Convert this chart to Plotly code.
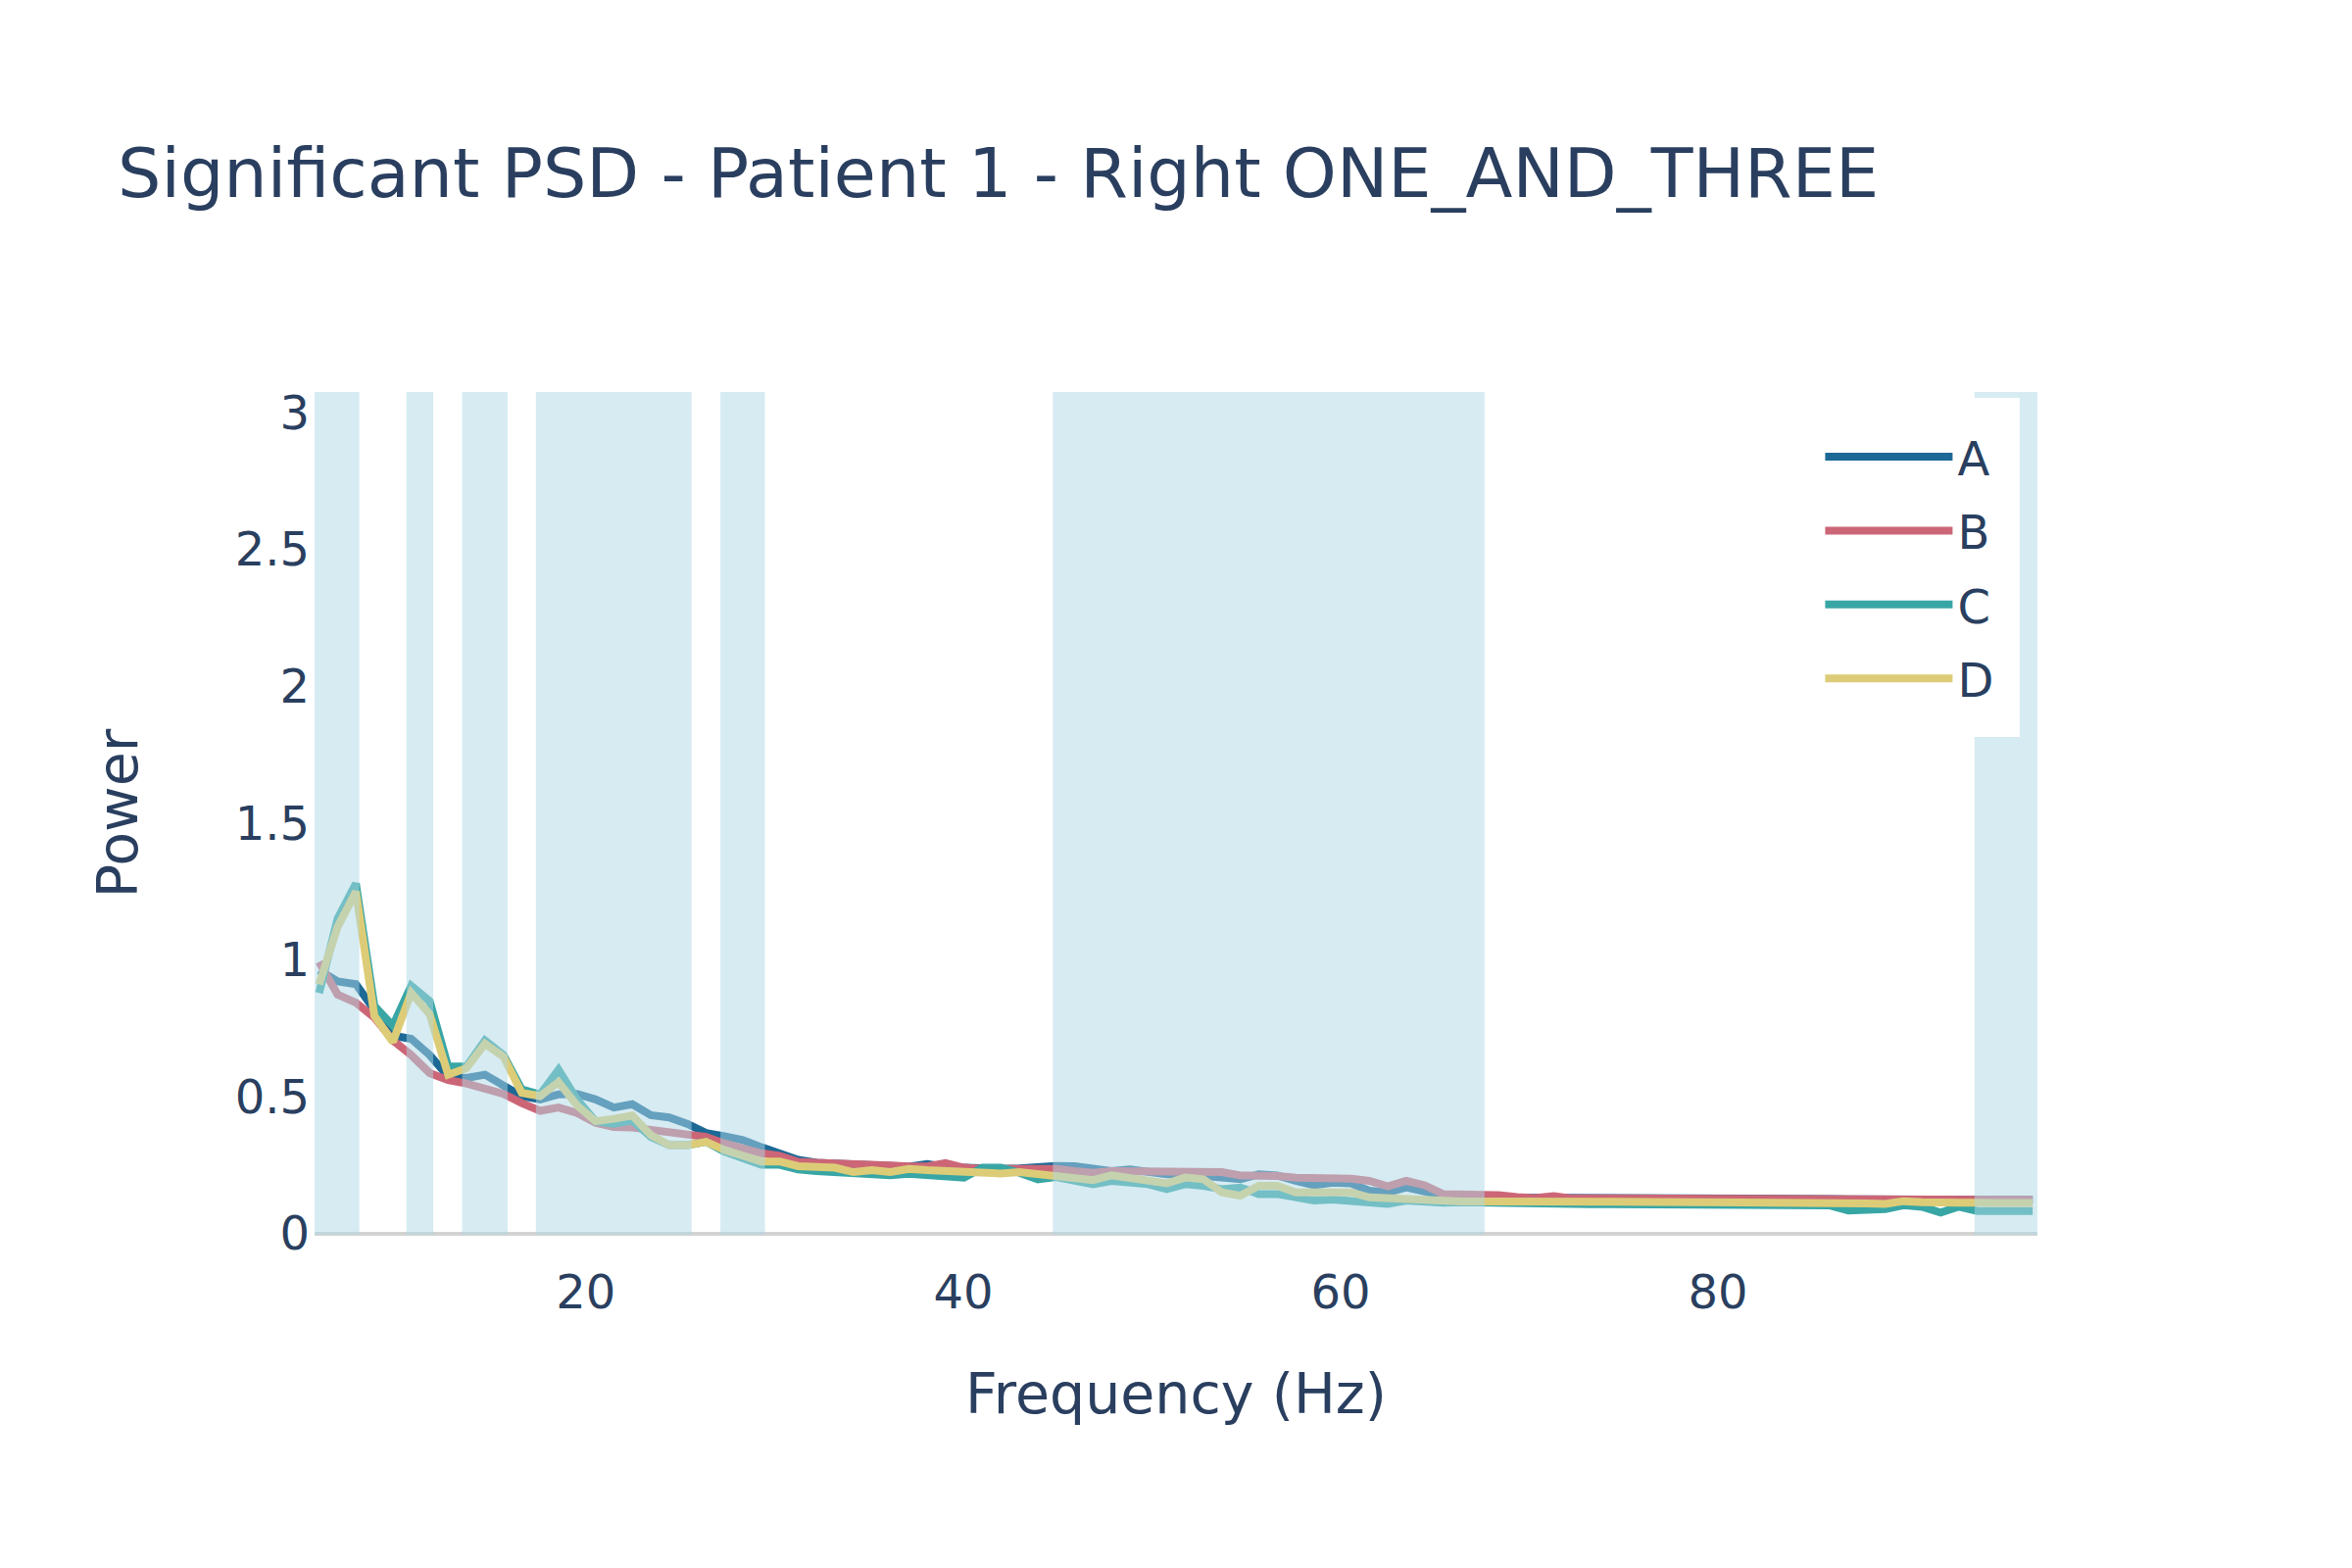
import plotly.graph_objects as go

# ---------------- data ----------------
freqs = [5.86, 6.84, 7.81, 8.79, 9.77, 10.74, 11.72, 12.70, 13.67, 14.65,
         15.63, 16.60, 17.58, 18.55, 19.53, 20.51, 21.48, 22.46, 23.44, 24.41,
         25.39, 26.37, 27.34, 28.32, 29.30, 30.27, 31.25, 32.23, 33.20, 34.18,
         35.16, 36.13, 37.11, 38.09, 39.06, 40.04, 41.02, 41.99, 42.97, 43.95,
         44.92, 45.90, 46.88, 47.85, 48.83, 49.80, 50.78, 51.76, 52.73, 53.71,
         54.69, 55.66, 56.64, 57.62, 58.59, 59.57, 60.55, 61.52, 62.50, 63.48,
         64.45, 65.43, 66.41, 67.38, 68.36, 69.34, 70.31, 71.29, 72.27, 73.24,
         74.22, 75.20, 76.17, 77.15, 78.13, 79.10, 80.08, 81.05, 82.03, 83.01,
         83.98, 84.96, 85.94, 86.91, 87.89, 88.87, 89.84, 90.82, 91.80, 92.77,
         93.75, 94.73, 95.70, 96.68]

power_a = [0.962, 0.921, 0.911, 0.819, 0.723, 0.711, 0.652, 0.574, 0.568, 0.580,
           0.544, 0.502, 0.490, 0.508, 0.510, 0.490, 0.460, 0.472, 0.432, 0.424,
           0.400, 0.367, 0.355, 0.341, 0.315, 0.293, 0.269, 0.258, 0.255, 0.252,
           0.250, 0.246, 0.244, 0.254, 0.243, 0.240, 0.236, 0.236, 0.238, 0.246,
           0.247, 0.246, 0.234, 0.228, 0.234, 0.222, 0.216, 0.216, 0.212, 0.204,
           0.198, 0.216, 0.212, 0.192, 0.176, 0.186, 0.183, 0.156, 0.150, 0.168,
           0.150, 0.138, 0.132, 0.132, 0.133, 0.131, 0.130, 0.130, 0.129, 0.129,
           0.129, 0.128, 0.128, 0.128, 0.128, 0.127, 0.127, 0.127, 0.127, 0.126,
           0.126, 0.126, 0.126, 0.125, 0.125, 0.125, 0.126, 0.125, 0.124, 0.125,
           0.123, 0.123, 0.123, 0.123]

power_b = [0.992, 0.873, 0.843, 0.789, 0.705, 0.652, 0.586, 0.560, 0.548, 0.530,
           0.510, 0.476, 0.448, 0.460, 0.440, 0.404, 0.389, 0.387, 0.379, 0.371,
           0.363, 0.353, 0.329, 0.308, 0.293, 0.284, 0.262, 0.258, 0.257, 0.254,
           0.254, 0.248, 0.245, 0.245, 0.257, 0.240, 0.236, 0.236, 0.238, 0.240,
           0.236, 0.228, 0.222, 0.228, 0.228, 0.228, 0.228, 0.228, 0.228, 0.224,
           0.212, 0.212, 0.210, 0.204, 0.204, 0.207, 0.200, 0.192, 0.172, 0.192,
           0.176, 0.144, 0.144, 0.144, 0.140, 0.133, 0.129, 0.136, 0.128, 0.128,
           0.128, 0.127, 0.127, 0.127, 0.127, 0.126, 0.126, 0.126, 0.126, 0.126,
           0.125, 0.125, 0.125, 0.125, 0.124, 0.121, 0.125, 0.124, 0.124, 0.124,
           0.123, 0.123, 0.123, 0.123]

power_c = [0.879, 1.150, 1.279, 0.831, 0.759, 0.905, 0.849, 0.610, 0.610, 0.705,
           0.652, 0.526, 0.508, 0.598, 0.490, 0.410, 0.401, 0.413, 0.353, 0.323,
           0.323, 0.335, 0.299, 0.275, 0.251, 0.251, 0.234, 0.228, 0.224, 0.216,
           0.219, 0.213, 0.218, 0.212, 0.210, 0.204, 0.240, 0.240, 0.222, 0.198,
           0.206, 0.192, 0.180, 0.192, 0.186, 0.180, 0.162, 0.180, 0.174, 0.162,
           0.168, 0.144, 0.144, 0.132, 0.120, 0.124, 0.120, 0.112, 0.108, 0.120,
           0.114, 0.112, 0.114, 0.112, 0.110, 0.109, 0.108, 0.108, 0.107, 0.107,
           0.107, 0.106, 0.106, 0.106, 0.105, 0.105, 0.105, 0.104, 0.104, 0.103,
           0.103, 0.102, 0.102, 0.084, 0.090, 0.089, 0.103, 0.097, 0.076, 0.098,
           0.082, 0.083, 0.083, 0.082]

power_d = [0.910, 1.120, 1.249, 0.795, 0.700, 0.879, 0.801, 0.580, 0.604, 0.693,
           0.646, 0.514, 0.502, 0.553, 0.468, 0.410, 0.419, 0.431, 0.359, 0.323,
           0.323, 0.335, 0.305, 0.281, 0.263, 0.263, 0.246, 0.243, 0.240, 0.224,
           0.231, 0.224, 0.236, 0.231, 0.228, 0.224, 0.222, 0.219, 0.224, 0.216,
           0.210, 0.201, 0.195, 0.212, 0.204, 0.192, 0.183, 0.204, 0.198, 0.150,
           0.138, 0.174, 0.174, 0.150, 0.150, 0.150, 0.150, 0.132, 0.128, 0.126,
           0.120, 0.117, 0.117, 0.117, 0.118, 0.117, 0.117, 0.117, 0.116, 0.116,
           0.116, 0.116, 0.115, 0.115, 0.115, 0.115, 0.115, 0.114, 0.114, 0.114,
           0.114, 0.113, 0.113, 0.112, 0.110, 0.108, 0.118, 0.114, 0.110, 0.112,
           0.112, 0.112, 0.112, 0.111]

series_names = ["A", "B", "C", "D"]
series_colors = ["#1D6996", "#CC6677", "#38A6A5", "#DDCC77"]

# significant frequency bands (Hz)
band_starts = [5.62, 10.49, 13.44, 17.35, 27.13, 44.75, 93.60]
band_ends = [7.99, 11.91, 15.85, 25.60, 29.49, 67.63, 96.93]

x_ticks = [20, 40, 60, 80]
y_ticks = [0, 0.5, 1, 1.5, 2, 2.5, 3]
y_tick_text = ["0", "0.5", "1", "1.5", "2", "2.5", "3"]

# ---------------- figure ----------------
FONT = "DejaVu Sans"
TXT = "#2a3f5f"

fig = go.Figure()
for name, color, ys in zip(series_names, series_colors,
                           [power_a, power_b, power_c, power_d]):
    fig.add_trace(go.Scatter(x=freqs, y=ys, mode="lines", name=name,
                             legendgroup=name,
                             line=dict(color=color, width=8)))

for s, e in zip(band_starts, band_ends):
    fig.add_shape(type="rect", xref="x", yref="paper", x0=s, x1=e, y0=0, y1=1,
                  fillcolor="lightblue", opacity=0.5, layer="above",
                  line=dict(width=0))

fig.update_layout(
    width=2400, height=1600,
    paper_bgcolor="white", plot_bgcolor="white",
    font=dict(family=FONT, size=48, color=TXT),
    margin=dict(l=321, r=321, t=400, b=340, autoexpand=False),
    title=dict(text="Significant PSD - Patient 1 - Right ONE_AND_THREE",
               x=0.05, xanchor="left", y=0.89, yanchor="middle",
               font=dict(family=FONT, size=70, color=TXT)),
    xaxis=dict(title=dict(text="Frequency (Hz)", font=dict(size=57), standoff=57),
               range=[band_starts[0], band_ends[-1]],
               tickmode="array", tickvals=x_ticks,
               showgrid=False, zeroline=False, showline=False,
               tickfont=dict(size=48), ticklabelstandoff=26, automargin=False),
    yaxis=dict(title=dict(text="Power", font=dict(size=57), standoff=80),
               range=[-0.005, 3.075],
               tickmode="array", tickvals=y_ticks, ticktext=y_tick_text,
               showgrid=False, zeroline=True, zerolinecolor="lightgray",
               zerolinewidth=4, showline=False,
               tickfont=dict(size=48), ticklabelstandoff=4, automargin=False),
    legend=dict(x=0.99, y=0.9926, xanchor="right", yanchor="top",
                bgcolor="white", bordercolor="white", borderwidth=22,
                font=dict(size=48), tracegroupgap=10, itemwidth=130),
    showlegend=True,
)

fig.write_html("out.html",
               config={"displayModeBar": False},
               post_script="document.body.style.margin='0';"
                           "document.body.style.padding='0';")
